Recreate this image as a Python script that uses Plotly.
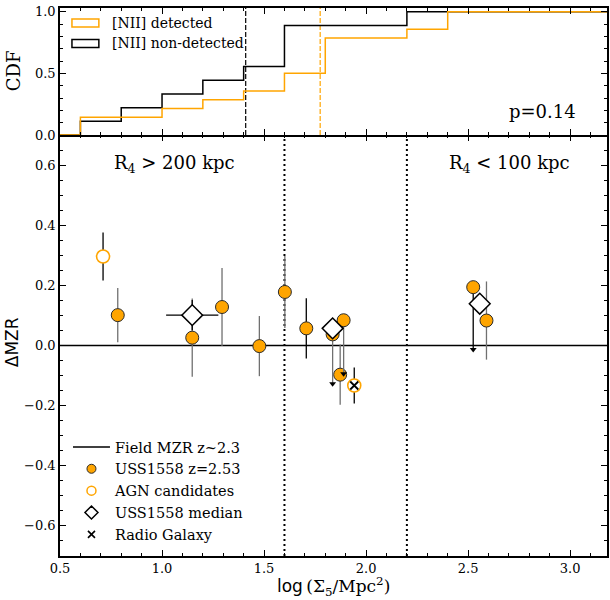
import plotly.graph_objects as go

# ---------------- data ----------------
# CDF panel (cumulative fraction at each bin edge)
cdf_edges = [0.5, 0.6, 0.8, 1.0, 1.2, 1.4, 1.6, 1.8, 2.0, 2.2, 2.4, 3.2]
cdf_nondet = [0.0, 0.111, 0.222, 0.333, 0.444, 0.556, 0.889, 0.889, 0.889, 1.0, 1.0, 1.0]
cdf_det = [0.0, 0.143, 0.143, 0.214, 0.286, 0.357, 0.5, 0.786, 0.786, 0.857, 1.0, 1.0]
median_nondet = 1.41
median_det = 1.775
p_value_text = "p=0.14"

# USS1558 detections
det_x = [0.783, 1.148, 1.294, 1.477, 1.602, 1.873, 2.590]
det_y = [0.101, 0.026, 0.128, -0.002, 0.178, -0.097, 0.083]
det_err = [0.09, 0.13, 0.13, 0.10, 0.12, 0.10, 0.13]
det_blk_x = [1.707]
det_blk_y = [0.057]
det_blk_err = [0.10]

# upper limits (arrow lengths)
ul_gray_x = [1.836, 1.890]
ul_gray_y = [0.037, 0.084]
ul_gray_len = [0.164, 0.178]
ul_blk_x = [2.525]
ul_blk_y = [0.194]
ul_blk_len = [0.207]

# AGN candidate
agn_x = [0.711]
agn_y = [0.296]
agn_err = [0.08]

# radio galaxy
rg_x = [1.942]
rg_y = [-0.133]
rg_err = [0.06]

# medians
med_x = [1.148, 1.836, 2.557]
med_y = [0.101, 0.057, 0.139]
med_xerr = [0.128, 0.0, 0.0]
med_yerr = [0.05, 0.0, 0.0]

region_bounds = [1.6, 2.2]

ORANGE = "#FFA500"
GRAY = "#707070"
SERIF = "DejaVu Serif"

fig = go.Figure()

# ---------------- top panel ----------------
fig.add_trace(go.Scatter(x=cdf_edges, y=cdf_nondet, mode="lines", line_shape="hv",
                         line=dict(color="black", width=1.5), xaxis="x", yaxis="y",
                         showlegend=False))
fig.add_trace(go.Scatter(x=cdf_edges, y=cdf_det, mode="lines", line_shape="hv",
                         line=dict(color=ORANGE, width=1.5), xaxis="x", yaxis="y",
                         showlegend=False))

shapes = []
shapes.append(dict(type="line", xref="x", yref="y domain", x0=median_nondet, x1=median_nondet,
                   y0=0, y1=1, layer="below",
                   line=dict(color="black", width=1.2, dash="5px,2px")))
shapes.append(dict(type="line", xref="x", yref="y domain", x0=median_det, x1=median_det,
                   y0=0, y1=1, layer="below",
                   line=dict(color=ORANGE, width=1.2, dash="5px,2px")))
for b in region_bounds:
    shapes.append(dict(type="line", xref="x2", yref="y2 domain", x0=b, x1=b, y0=0, y1=1,
                       layer="below",
                       line=dict(color="black", width=2, dash="2px,3px")))

# ---------------- bottom panel ----------------
# field MZR (zero line)
fig.add_trace(go.Scatter(x=[0.5, 3.2], y=[0, 0], mode="lines",
                         line=dict(color="black", width=1.5), xaxis="x2", yaxis="y2",
                         showlegend=False, hoverinfo="skip"))
# empty trace to activate the top-tick overlay axis of the bottom panel
fig.add_trace(go.Scatter(x=[None], y=[None], xaxis="x3", yaxis="y2", showlegend=False,
                         mode="markers"))

def circ(x, y, err, ecol, fill, lcol, lw, errminus=None):
    ey = dict(type="data", array=err, color=ecol, thickness=1.3, width=0, visible=True)
    if errminus is not None:
        ey = dict(type="data", array=[0] * len(x), arrayminus=errminus, symmetric=False,
                  color=ecol, thickness=1.3, width=0, visible=True)
    return go.Scatter(x=x, y=y, mode="markers", xaxis="x2", yaxis="y2", showlegend=False,
                      marker=dict(symbol="circle", size=13, color=fill,
                                  line=dict(color=lcol, width=lw)),
                      error_y=ey)

fig.add_trace(circ(det_x, det_y, det_err, GRAY, ORANGE, "#2a2a2a", 1))
fig.add_trace(circ(det_blk_x, det_blk_y, det_blk_err, "black", ORANGE, "#2a2a2a", 1))
fig.add_trace(circ(ul_gray_x, ul_gray_y, None, GRAY, ORANGE, "#2a2a2a", 1, errminus=ul_gray_len))
fig.add_trace(circ(ul_blk_x, ul_blk_y, None, "black", ORANGE, "#2a2a2a", 1, errminus=ul_blk_len))

# arrow heads of upper limits
ul_tip_x = ul_gray_x + ul_blk_x
ul_tip_y = [y - l for y, l in zip(ul_gray_y + ul_blk_y, ul_gray_len + ul_blk_len)]
fig.add_trace(go.Scatter(x=ul_tip_x, y=ul_tip_y, mode="markers", xaxis="x2", yaxis="y2",
                         showlegend=False,
                         marker=dict(symbol="triangle-down", size=6, color="black",
                                     line=dict(width=0))))

fig.add_trace(circ(agn_x, agn_y, agn_err, "black", "white", ORANGE, 1.6))
fig.add_trace(circ(rg_x, rg_y, rg_err, "black", "white", ORANGE, 1.6))
fig.add_trace(go.Scatter(x=rg_x, y=rg_y, mode="markers", xaxis="x2", yaxis="y2",
                         showlegend=False,
                         marker=dict(symbol="x-thin", size=8, color="black",
                                     line=dict(color="black", width=1.8))))

# medians
fig.add_trace(go.Scatter(x=med_x, y=med_y, mode="markers", xaxis="x2", yaxis="y2",
                         showlegend=False,
                         marker=dict(symbol="diamond", size=16, color="white",
                                     line=dict(color="black", width=1.5)),
                         error_x=dict(type="data", array=med_xerr, color="black",
                                      thickness=1.3, width=0),
                         error_y=dict(type="data", array=med_yerr, color="black",
                                      thickness=1.3, width=0)))

# legend proxies (bottom legend)
leg = dict(xaxis="x2", yaxis="y2", x=[None], y=[None], legend="legend2")
fig.add_trace(go.Scatter(mode="lines", line=dict(color="black", width=1.5),
                         name="Field MZR z~2.3", **leg))
fig.add_trace(go.Scatter(mode="markers", name="USS1558 z=2.53",
                         marker=dict(symbol="circle", size=9, color=ORANGE,
                                     line=dict(color="#2a2a2a", width=1)), **leg))
fig.add_trace(go.Scatter(mode="markers", name="AGN candidates",
                         marker=dict(symbol="circle", size=9, color="white",
                                     line=dict(color=ORANGE, width=1.5)), **leg))
fig.add_trace(go.Scatter(mode="markers", name="USS1558 median",
                         marker=dict(symbol="diamond", size=10, color="white",
                                     line=dict(color="black", width=1.5)), **leg))
fig.add_trace(go.Scatter(mode="markers", name="Radio Galaxy",
                         marker=dict(symbol="x-thin", size=7, color="black",
                                     line=dict(color="black", width=1.6)), **leg))

# ---------------- layout ----------------
L, R, T, B = 60, 1, 8, 44
W, H = 610, 600
PW, PH = W - L - R, H - T - B
def px2x(px):
    return (px - L) / PW
def px2y(py):
    return (H - B - py) / PH

split = px2y(135)
xr = [0.5, 0.5 + PW / 204.8]

# top legend (manual boxes)
for i, col in enumerate([ORANGE, "black"]):
    yc = 23 + 20.5 * i
    shapes.append(dict(type="rect", xref="paper", yref="paper",
                       x0=px2x(72), x1=px2x(99), y0=px2y(yc - 4), y1=px2y(yc + 4),
                       line=dict(color=col, width=1.5), fillcolor="rgba(0,0,0,0)"))

def ann(text, px, py, size, family=SERIF, xanchor="center", angle=0):
    return dict(text=text, x=px2x(px), y=px2y(py), xref="paper", yref="paper",
                xanchor=xanchor, yanchor="middle", showarrow=False, textangle=angle,
                font=dict(family=family, size=size, color="black"))

annotations = [
    ann("[NII] detected", 110, 23, 14, xanchor="left"),
    ann("[NII] non-detected", 110, 43.5, 14, xanchor="left"),
    ann(p_value_text, 544, 111, 18),
    ann("R<sub>4</sub> > 200 kpc", 175, 164, 18),
    ann("R<sub>4</sub> < 100 kpc", 511, 164, 18),
    ann("CDF", 13, 71, 18, angle=-90),
    ann("ΔMZR", 12, 342, 17, family="DejaVu Sans", angle=-90),
    ann("<span style='font-family:DejaVu Sans'>log</span>\u2009(Σ<sub>5</sub>/Mpc<sup>2</sup>)",
        335, 586, 17),
]

axis_common = dict(linecolor="black", linewidth=1.5,
                   ticks="inside", ticklen=6, tickwidth=1, tickcolor="black",
                   showgrid=False, zeroline=False,
                   tickfont=dict(family=SERIF, size=13, color="black"))
minor_x = dict(dtick=0.1, ticklen=3, ticks="inside", tickcolor="black")

fig.update_layout(
    width=W, height=H,
    margin=dict(l=L, r=R, t=T, b=B),
    paper_bgcolor="white", plot_bgcolor="white",
    font=dict(family=SERIF, color="black"),
    shapes=shapes, annotations=annotations,
    xaxis=dict(domain=[0, 1], range=xr, anchor="y", matches="x2", showline=True, mirror="ticks",
               showticklabels=False, dtick=0.5, tick0=0.5, minor=minor_x, **axis_common),
    yaxis=dict(domain=[split, 1], range=[0, 1.03], anchor="x", dtick=0.5, tick0=0,
               tickformat=".1f", showline=True, mirror="ticks",
               minor=dict(dtick=0.1, ticklen=3, ticks="inside", tickcolor="black"),
               **axis_common),
    xaxis2=dict(domain=[0, 1], range=xr, anchor="y2", dtick=0.5, tick0=0.5,
                tickformat=".1f", showline=True, mirror=False, minor=minor_x, **axis_common),
    xaxis3=dict(range=xr, anchor="y2", overlaying="x2", side="top", showline=False,
                showticklabels=False, dtick=0.5, tick0=0.5, minor=minor_x, **axis_common),
    yaxis2=dict(domain=[0, split], range=[-0.7, 0.7], anchor="x2", dtick=0.2, tick0=0,
                tickformat=".1f", showline=True, mirror="ticks",
                minor=dict(dtick=0.05, ticklen=3, ticks="inside", tickcolor="black"),
                **axis_common),
    legend2=dict(x=px2x(68), y=px2y(431), xanchor="left", yanchor="top",
                 bgcolor="rgba(0,0,0,0)", borderwidth=0, itemwidth=37,
                 font=dict(family=SERIF, size=14.5, color="black")),
    showlegend=True,
)

fig.write_html("out.html")
